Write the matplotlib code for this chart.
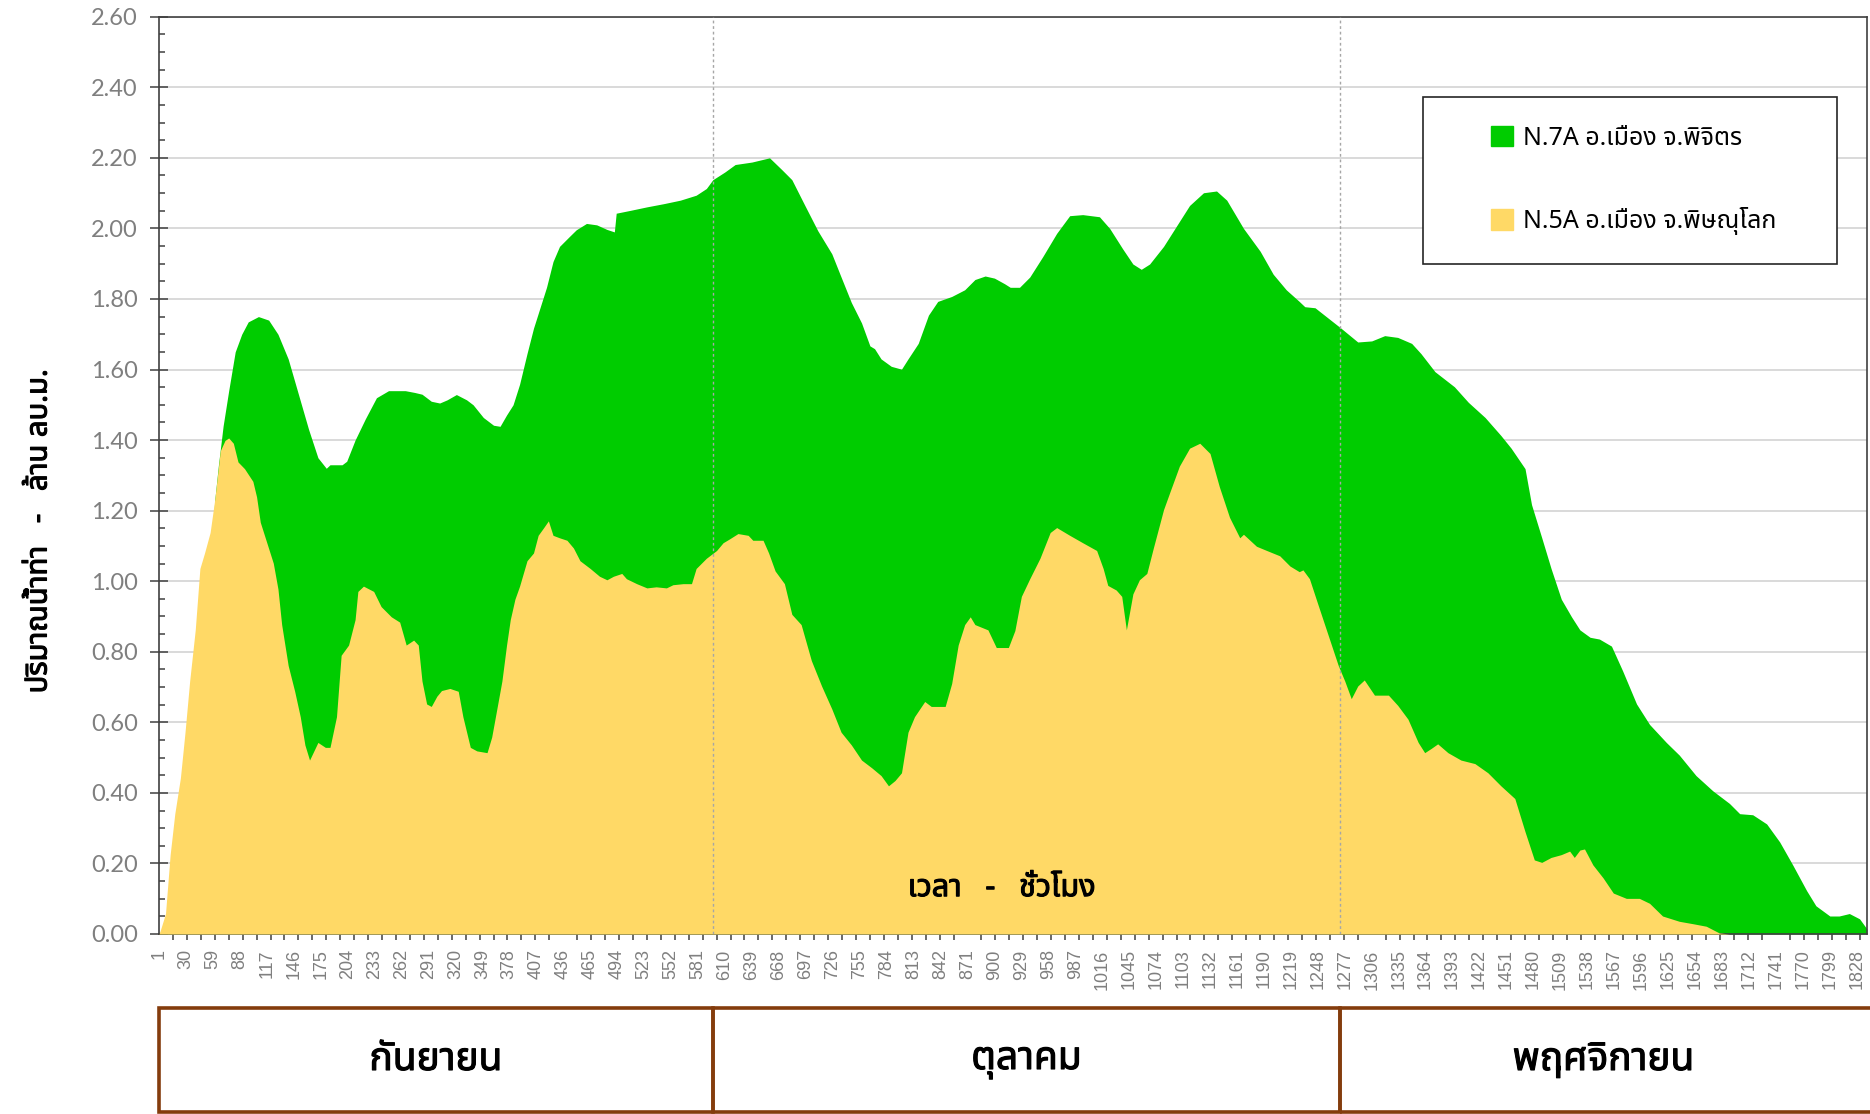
import matplotlib
matplotlib.use("Agg")
import matplotlib.pyplot as plt
from matplotlib import font_manager as fm
from matplotlib import patheffects as pe
from matplotlib.ft2font import FT2Font
from matplotlib.patches import Patch, Rectangle

# hourly runoff (million m3), values at selected hours
green_hr = [1, 10, 20, 30, 40, 50, 58, 61, 65, 70, 76, 83, 90, 97, 108, 119, 129, 140, 151, 162,
            172, 181, 185, 198, 203, 212, 223, 235, 248, 266, 276, 284, 294, 303, 311, 321, 332,
            339, 350, 361, 368, 375, 382, 389, 397, 404, 411, 418, 425, 432, 443, 450, 461, 472,
            483, 491, 493, 508, 526, 544, 562, 579, 590, 597, 610, 621, 639, 658, 671, 682, 696,
            710, 725, 735, 746, 757, 766, 771, 778, 789, 800, 807, 818, 829, 839, 854, 868, 879,
            890, 900, 911, 917, 927, 938, 952, 967, 981, 995, 1013, 1024, 1038, 1049, 1058, 1067,
            1082, 1096, 1110, 1125, 1139, 1150, 1168, 1186, 1200, 1214, 1228, 1234, 1245, 1259,
            1273, 1291, 1306, 1320, 1334, 1349, 1359, 1374, 1395, 1410, 1428, 1445, 1456, 1471,
            1478, 1489, 1499, 1510, 1521, 1530, 1541, 1551, 1564, 1576, 1591, 1605, 1623, 1637,
            1655, 1673, 1691, 1702, 1716, 1731, 1745, 1759, 1774, 1784, 1799, 1809, 1820, 1831, 1839]
green_val = [0.0, 0.03, 0.15, 0.40, 0.65, 0.90, 1.10, 1.23, 1.33, 1.44, 1.54, 1.65, 1.70, 1.735,
             1.75, 1.74, 1.70, 1.63, 1.53, 1.43, 1.35, 1.32, 1.33, 1.33, 1.34, 1.40, 1.46, 1.52,
             1.54, 1.54, 1.535, 1.53, 1.51, 1.505, 1.514, 1.529, 1.514, 1.50, 1.464, 1.442, 1.439,
             1.471, 1.50, 1.558, 1.645, 1.717, 1.775, 1.833, 1.906, 1.949, 1.978, 1.996, 2.014,
             2.010, 1.997, 1.990, 2.043, 2.051, 2.061, 2.070, 2.080, 2.094, 2.113, 2.138, 2.160,
             2.181, 2.188, 2.200, 2.167, 2.138, 2.065, 1.993, 1.928, 1.862, 1.790, 1.732, 1.667,
             1.659, 1.630, 1.609, 1.601, 1.630, 1.674, 1.754, 1.793, 1.807, 1.826, 1.855, 1.865,
             1.859, 1.843, 1.833, 1.833, 1.862, 1.920, 1.986, 2.036, 2.039, 2.033, 2.000, 1.942,
             1.899, 1.884, 1.899, 1.949, 2.007, 2.065, 2.101, 2.106, 2.080, 2.000, 1.935, 1.870,
             1.826, 1.793, 1.778, 1.775, 1.746, 1.717, 1.678, 1.681, 1.696, 1.691, 1.674, 1.645,
             1.594, 1.551, 1.507, 1.464, 1.413, 1.377, 1.319, 1.217, 1.123, 1.036, 0.949, 0.899,
             0.862, 0.841, 0.836, 0.816, 0.746, 0.652, 0.594, 0.543, 0.507, 0.449, 0.406, 0.370,
             0.341, 0.338, 0.312, 0.261, 0.196, 0.123, 0.080, 0.051, 0.051, 0.058, 0.043, 0.014]

yellow_hr = [1, 2, 8, 13, 18, 24, 29, 34, 40, 45, 50, 56, 61, 67, 72, 76, 81, 86, 93, 102, 106,
             110, 117, 124, 129, 133, 140, 147, 153, 158, 163, 172, 180, 185, 192, 197, 205, 212,
             215, 221, 232, 240, 251, 260, 267, 275, 280, 284, 289, 294, 300, 305, 314, 323, 328,
             336, 343, 354, 359, 364, 370, 375, 379, 384, 389, 397, 404, 409, 415, 420, 425, 432,
             440, 447, 454, 465, 475, 483, 490, 499, 504, 515, 526, 536, 547, 554, 565, 574, 579,
             590, 601, 608, 615, 624, 635, 640, 651, 657, 664, 674, 682, 692, 703, 714, 725, 735,
             746, 757, 768, 778, 786, 793, 800, 807, 814, 825, 832, 847, 854, 861, 868, 874, 879,
             893, 902, 915, 922, 929, 938, 949, 960, 967, 981, 995, 1010, 1017, 1022, 1031, 1037,
             1042, 1049, 1056, 1064, 1071, 1082, 1089, 1099, 1110, 1121, 1132, 1142, 1153, 1164,
             1168, 1182, 1193, 1207, 1218, 1228, 1232, 1239, 1248, 1259, 1270, 1277, 1284, 1291,
             1298, 1309, 1324, 1334, 1345, 1356, 1363, 1370, 1377, 1388, 1402, 1417, 1431, 1445,
             1460, 1471, 1481, 1489, 1499, 1510, 1519, 1524, 1530, 1535, 1544, 1555, 1566, 1580,
             1594, 1605, 1619, 1637, 1652, 1666, 1680, 1691, 1839]
yellow_val = [0.0, 0.007, 0.058, 0.225, 0.341, 0.442, 0.572, 0.717, 0.862, 1.036, 1.080, 1.138,
              1.232, 1.370, 1.399, 1.406, 1.391, 1.338, 1.319, 1.283, 1.239, 1.167, 1.109, 1.051,
              0.978, 0.877, 0.761, 0.688, 0.616, 0.536, 0.493, 0.543, 0.529, 0.529, 0.616, 0.790,
              0.819, 0.891, 0.971, 0.986, 0.971, 0.928, 0.899, 0.884, 0.819, 0.833, 0.819, 0.717,
              0.652, 0.645, 0.674, 0.690, 0.696, 0.688, 0.616, 0.529, 0.519, 0.514, 0.558, 0.630,
              0.717, 0.819, 0.891, 0.949, 0.986, 1.058, 1.080, 1.130, 1.152, 1.171, 1.130, 1.123,
              1.116, 1.094, 1.058, 1.036, 1.014, 1.004, 1.014, 1.022, 1.007, 0.993, 0.981, 0.984,
              0.981, 0.990, 0.993, 0.993, 1.036, 1.065, 1.087, 1.109, 1.120, 1.135, 1.130, 1.116,
              1.116, 1.080, 1.029, 0.993, 0.906, 0.877, 0.775, 0.703, 0.638, 0.572, 0.536, 0.493,
              0.471, 0.449, 0.420, 0.435, 0.457, 0.572, 0.616, 0.659, 0.645, 0.645, 0.710, 0.819,
              0.877, 0.899, 0.877, 0.862, 0.812, 0.812, 0.860, 0.957, 1.007, 1.065, 1.138, 1.152,
              1.130, 1.109, 1.087, 1.036, 0.988, 0.975, 0.957, 0.862, 0.964, 1.004, 1.022, 1.094,
              1.203, 1.254, 1.326, 1.377, 1.391, 1.362, 1.268, 1.181, 1.123, 1.133, 1.099, 1.087,
              1.072, 1.043, 1.027, 1.032, 1.007, 0.935, 0.848, 0.761, 0.717, 0.667, 0.703, 0.720,
              0.677, 0.677, 0.648, 0.609, 0.543, 0.514, 0.526, 0.539, 0.514, 0.493, 0.483, 0.457,
              0.420, 0.384, 0.290, 0.210, 0.203, 0.217, 0.225, 0.235, 0.217, 0.238, 0.241, 0.196,
              0.159, 0.116, 0.101, 0.101, 0.087, 0.051, 0.036, 0.029, 0.022, 0.003, 0.0, 0.0]

labels = ["N.7A อ.เมือง จ.พิจิตร", "N.5A อ.เมือง จ.พิษณุโลก"]
months = ["กันยายน", "ตุลาคม", "พฤศจิกายน"]
month_edges = [1, 597, 1272, 1839]
n_hours = 1839


def thai_font():
    prefer = ["Noto Sans Thai", "Noto Sans Thai UI", "Loma", "Garuda", "Waree", "Tlwg Typo",
              "Umpush", "Sawasdee", "Norasi", "Kinnari", "Laksaman", "Tahoma", "Leelawadee UI"]
    found = set()
    for f in fm.fontManager.ttflist:
        try:
            if 0x0E01 in FT2Font(f.fname).get_charmap():
                found.add(f.name)
        except Exception:
            pass
    for name in prefer:
        if name in found:
            return name
    if found:
        return sorted(found)[0]
    return "DejaVu Sans"


TH = thai_font()
thai = [TH, "DejaVu Sans"]
plt.rcParams["font.family"] = thai
# the Thai face has no bold cut here, so thicken strokes a little
heavy = [pe.withStroke(linewidth=0.8, foreground="black")]

fig = plt.figure(figsize=(18.7, 11.14), dpi=100)
W, H = 1870, 1114
ax = fig.add_axes([159 / W, 1 - 934 / H, (1867 - 159) / W, (934 - 16.7) / H])

ax.fill_between(green_hr, green_val, color="#00CC00", lw=0, zorder=2)
ax.fill_between(yellow_hr, yellow_val, color="#FFD966", lw=0, zorder=3)

ax.set_xlim(1, n_hours)
ax.set_ylim(0, 2.6)
ax.set_axisbelow(True)

yt = [i * 0.2 for i in range(14)]
ax.set_yticks(yt)
ax.set_yticklabels([f"{v:.2f}" for v in yt], fontsize=17, color="#7F7F7F",
                   family=["Lato", "DejaVu Sans"])
ax.set_yticks([i * 0.05 for i in range(53)], minor=True)
ax.tick_params(axis="y", which="major", direction="inout", length=12.5, width=1.1,
               color="#404040", pad=9)
ax.tick_params(axis="y", which="minor", direction="in", length=4.5, width=1.1, color="#404040")
ax.yaxis.grid(True, which="major", color="#D9D9D9", lw=1.4)

xt = list(range(1, n_hours, 29))
ax.set_xticks(xt)
ax.set_xticklabels([str(v) for v in xt], rotation=90, fontsize=13, color="#7F7F7F",
                   family=["Liberation Sans", "DejaVu Sans"])
ax.set_xticks(list(range(1, n_hours, 15)), minor=True)
ax.tick_params(axis="x", which="major", length=0, pad=11)
ax.tick_params(axis="x", which="minor", direction="inout", length=8, width=1.1, color="#404040")

for s in ax.spines.values():
    s.set_color("#404040")
    s.set_linewidth(1.2)

for e in month_edges[1:3]:
    ax.axvline(e, color="#A6A6A6", lw=1, ls=(0, (2, 2)), zorder=4)

fig.text(39 / W, 1 - 531 / H, "ปริมาณน้ำท่า   -   ล้าน ลบ.ม.", fontsize=21, rotation=90,
         ha="center", va="center", path_effects=heavy)
ax.text(908, 0.13, "เวลา   -   ชั่วโมง", fontsize=22, ha="center", va="center", zorder=5,
        path_effects=heavy)

# legend with its own frame
box = Rectangle((0.740, 0.7304), 0.2424, 0.1821, transform=ax.transAxes, fc="white",
                ec="#262626", lw=1.2, zorder=6)
ax.add_patch(box)
handles = [Patch(color="#00CC00"), Patch(color="#FFD966")]
leg = ax.legend(handles, labels, loc="center left", bbox_to_anchor=(0.7797, 0.8215),
                frameon=False, fontsize=18, handlelength=0.88, handleheight=0.88,
                handletextpad=0.4, labelspacing=2.25, borderpad=0, borderaxespad=0)
leg.set_zorder(7)

# month strip below the axis
mx = fig.add_axes([159 / W, 1 - 1112 / H, (1867 - 159) / W, (1112 - 1008) / H], sharex=ax)
mx.set_ylim(0, 1)
mx.axis("off")
for i, name in enumerate(months):
    x0, x1 = month_edges[i], month_edges[i + 1]
    mx.add_patch(Rectangle((x0, 0), x1 - x0 + (6 if i == 2 else 0), 1, fill=False,
                           ec="#843C0C", lw=2.6, clip_on=False))
    mx.text((x0 + x1) / 2, 0.5, name, fontsize=28, ha="center", va="center",
            path_effects=heavy)

fig.savefig("out.png", dpi=100)
